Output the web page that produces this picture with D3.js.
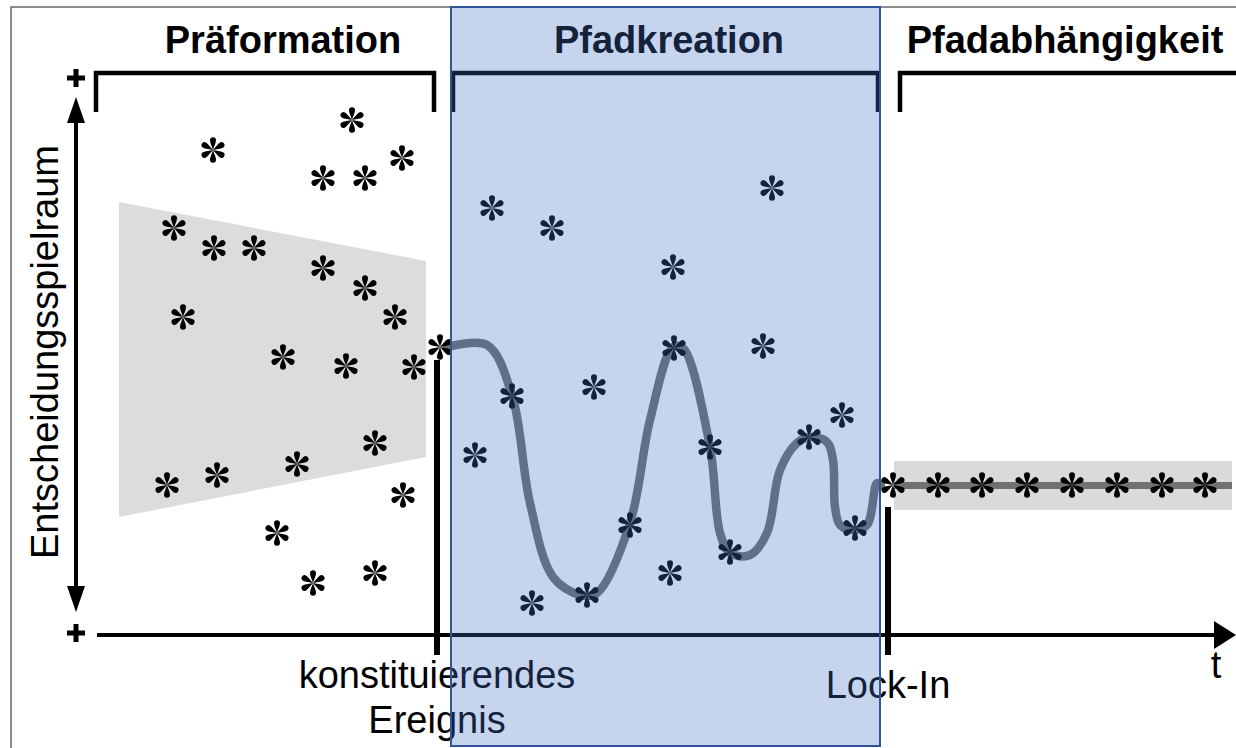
<!DOCTYPE html>
<html>
<head>
<meta charset="utf-8">
<title>Pfadabhängigkeit</title>
<script src="https://d3js.org/d3.v7.min.js"></script>
<style>
  body { margin: 0; background: #fff; }
  svg { display: block; font-family: "Liberation Sans", Arial, sans-serif; }
  .label { font-size: 38px; fill: #000; }
  .phase { font-size: 38px; font-weight: bold; fill: #000; }
</style>
</head>
<body>
<svg id="chart" width="1236" height="748"></svg>
<script>
// Phasen (Zeit t auf der x-Achse, 0..114)
const phaseNames = ["Präformation", "Pfadkreation", "Pfadabhängigkeit"];
const phaseStart = [-0.1, 35.6, 80.3];
const phaseEnd = [33.7, 78.1, 114.5];
const phaseLabelAt = [18.6, 57.2, 96.8];

// Ereignisse
const eventLines = [["konstituierendes", "Ereignis"], ["Lock-In"]];
const eventTimes = [34.0, 79.1];
const eventTop = [27.5, 12.8];

// Pfadkreation (hervorgehobener Bereich)
const creationFrom = 35.4, creationTo = 78.3;

// Korridor der Präformation
const corridorT = [2.2, 32.9, 32.9, 2.2];
const corridorV = [43.3, 37.4, 17.8, 11.8];

// Lock-In-Band
const bandFrom = 79.7, bandTo = 113.5, bandLevel = 14.95, bandHalf = 2.45;

// Sterne: Präformation
const preT = [25.5, 11.6, 22.6, 26.8, 30.5, 7.7, 11.7, 15.7, 22.6, 26.8, 29.8, 8.6,
              18.6, 24.9, 31.7, 27.8, 20.0, 12.0, 7.0, 30.6, 18.0, 21.6, 27.8];
const preV = [51.5, 48.5, 45.7, 45.7, 47.7, 40.7, 38.7, 38.7, 36.7, 34.7, 31.8, 31.8,
              27.8, 26.9, 26.8, 19.2, 17.1, 16.0, 15.0, 14.0, 10.2, 5.2, 6.2];

// Sterne: Pfadkreation
const creT = [34.3, 39.5, 45.5, 57.6, 67.5, 37.8, 41.5, 49.7, 43.5, 49.0, 53.3, 57.7,
              57.3, 61.3, 63.3, 66.6, 71.2, 74.5, 75.8];
const creV = [28.8, 42.7, 40.7, 36.8, 44.7, 18.0, 23.9, 24.8, 3.2, 4.0, 11.0, 28.7,
              6.2, 18.8, 8.3, 28.9, 19.8, 22.0, 10.7];

// Sterne: Pfadabhängigkeit
const lockT = [79.6, 84.1, 88.5, 93.0, 97.5, 102.0, 106.5, 110.8];
const lockV = 15.0;

// Pfadverlauf
const pathT = [35.0, 39.0, 41.5, 43.3, 45.6, 48.3, 50.0, 53.3, 55.3, 57.6, 58.6, 61.3,
               62.3, 63.3, 65.3, 67.0, 68.3, 70.0, 71.3, 73.0, 73.6, 73.8, 74.3, 75.6,
               77.0, 78.0, 78.4];
const pathV = [28.8, 29.0, 24.0, 13.2, 5.8, 4.0, 4.2, 11.2, 21.5, 28.8, 28.7, 18.8,
               10.2, 8.2, 8.0, 10.2, 16.5, 19.2, 19.8, 19.3, 17.5, 12.8, 11.0, 10.5,
               11.0, 15.2, 15.0];

const svg = d3.select("#chart");
const x = d3.scaleLinear().domain([0, 114]).range([97, 1237]);
const y = d3.scaleLinear().domain([0, 54]).range([635, 95]);

// Stern-Symbol (sechs Tropfen)
const petal = "M0,0 C-0.8,-3 -3,-7.2 -3,-9.8 A3,3 0 0,1 3,-9.8 C3,-7.2 0.8,-3 0,0Z";
const sym = svg.append("defs").append("g").attr("id", "ast");
d3.range(6).forEach(i => sym.append("path").attr("d", petal)
  .attr("transform", `rotate(${i * 60})`).attr("fill", "#000"));

// Rahmen
svg.append("path").attr("d", "M11,748 V7 H1236")
  .attr("fill", "none").attr("stroke", "#666").attr("stroke-width", 1.5);

// Korridor
svg.append("polygon")
  .attr("points", corridorT.map((t, i) => [x(t), y(corridorV[i])].join(",")).join(" "))
  .attr("fill", "#dcdcdc");

// Band
svg.append("rect")
  .attr("x", x(bandFrom)).attr("width", x(bandTo) - x(bandFrom))
  .attr("y", y(bandLevel + bandHalf)).attr("height", y(bandLevel - bandHalf) - y(bandLevel + bandHalf))
  .attr("fill", "#dadada");
svg.append("line")
  .attr("x1", x(bandFrom)).attr("x2", x(bandTo))
  .attr("y1", y(bandLevel)).attr("y2", y(bandLevel))
  .attr("stroke", "#717171").attr("stroke-width", 7);

// Pfad
const line = d3.line().x(d => x(d[0])).y(d => y(d[1])).curve(d3.curveCatmullRom.alpha(0.5));
svg.append("path")
  .attr("d", line(pathT.map((t, i) => [t, pathV[i]])))
  .attr("fill", "none").attr("stroke", "#6f6f6f").attr("stroke-width", 8.5)
  .attr("stroke-linecap", "round");

// Sterne
const stars = preT.map((t, i) => [t, preV[i]])
  .concat(creT.map((t, i) => [t, creV[i]]))
  .concat(lockT.map(t => [t, lockV]));
svg.selectAll("use.star").data(stars).enter().append("use")
  .attr("class", "star").attr("href", "#ast")
  .attr("x", d => x(d[0])).attr("y", d => y(d[1]));

// Achsen
const ax = 76, axTop = 97, axBottom = 612, axY = 635;
svg.append("line").attr("x1", ax).attr("x2", ax).attr("y1", axTop + 20).attr("y2", axBottom - 20)
  .attr("stroke", "#000").attr("stroke-width", 4);
svg.append("path").attr("d", `M${ax},${axTop} L${ax - 9},${axTop + 26} L${ax + 9},${axTop + 26}Z`);
svg.append("path").attr("d", `M${ax},${axBottom} L${ax - 9},${axBottom - 26} L${ax + 9},${axBottom - 26}Z`);
svg.append("line").attr("x1", 97).attr("x2", 1218).attr("y1", axY).attr("y2", axY)
  .attr("stroke", "#000").attr("stroke-width", 4);
svg.append("path").attr("d", `M1236,${axY} L1214,${axY - 14} L1214,${axY + 14}Z`);
[78, 633].forEach(cy => {
  svg.append("path").attr("d", `M${ax - 9},${cy} H${ax + 9} M${ax},${cy - 9} V${cy + 9}`)
    .attr("stroke", "#000").attr("stroke-width", 5);
});

// Ereignislinien
eventTimes.forEach((t, i) => {
  svg.append("line").attr("x1", x(t)).attr("x2", x(t))
    .attr("y1", y(eventTop[i])).attr("y2", 655)
    .attr("stroke", "#000").attr("stroke-width", 6);
});

// Klammern
phaseNames.forEach((n, i) => {
  const x0 = x(phaseStart[i]), x1 = x(phaseEnd[i]);
  const last = i === phaseNames.length - 1;
  svg.append("path").attr("d", `M${x0},112 V73 H${x1}` + (last ? "" : " V112"))
    .attr("fill", "none").attr("stroke", "#000").attr("stroke-width", 4.5);
  svg.append("text").attr("class", "phase").attr("x", x(phaseLabelAt[i])).attr("y", 53)
    .attr("text-anchor", "middle").text(n);
});

// Beschriftungen
eventLines.forEach((lines, i) => {
  const base = i === 0 ? 688 : 698;
  lines.forEach((s, j) => svg.append("text").attr("class", "label")
    .attr("x", x(eventTimes[i])).attr("y", base + j * 45)
    .attr("text-anchor", "middle").text(s));
});
svg.append("text").attr("class", "label").attr("x", 1216).attr("y", 678)
  .attr("text-anchor", "middle").text("t");
svg.append("text").attr("class", "label").attr("text-anchor", "middle")
  .attr("transform", "translate(58,352) rotate(-90)").text("Entscheidungsspielraum");

// Pfadkreation-Überlagerung
svg.append("rect")
  .attr("x", x(creationFrom)).attr("width", x(creationTo) - x(creationFrom))
  .attr("y", 7).attr("height", 739)
  .attr("fill", "#4472c4").attr("fill-opacity", 0.3)
  .attr("stroke", "#2f5597").attr("stroke-width", 2);
</script>
</body>
</html>
